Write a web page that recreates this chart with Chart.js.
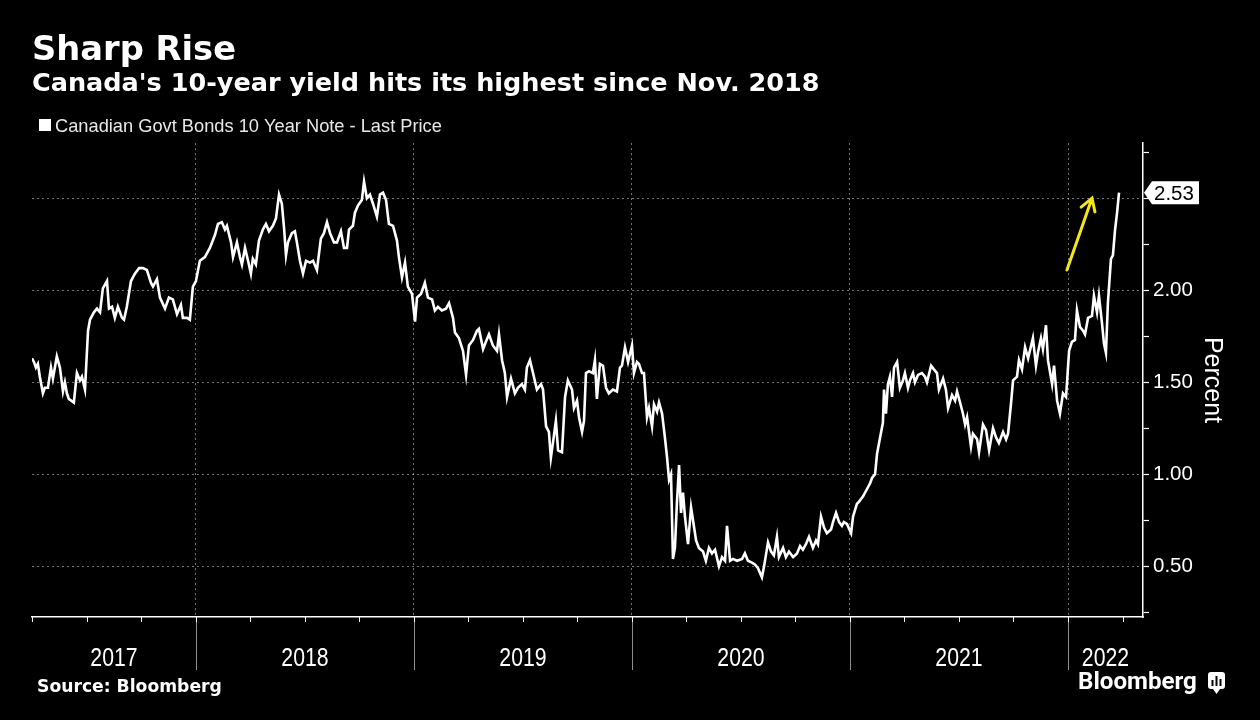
<!DOCTYPE html>
<html>
<head>
<meta charset="utf-8">
<script src="https://cdn.jsdelivr.net/npm/chart.js@4.4.1/dist/chart.umd.min.js"></script>
<style>
  html, body { margin: 0; padding: 0; background: #000; }
  #chart { display: block; }
</style>
</head>
<body>
<canvas id="chart" width="1260" height="720"></canvas>
<script>
const title = "Sharp Rise";
const subtitle = "Canada's 10-year yield hits its highest since Nov. 2018";
const seriesName = "Canadian Govt Bonds 10 Year Note - Last Price";
const source = "Source: Bloomberg";

// x values are fractions of each calendar year, y values in percent
const frac2017 = [.248, .257, .266, .275, .284, .298, .307, .321, .335, .344, .362, .376, .390, .399, .408, .417, .440, .454, .468, .477, .491, .505, .514, .532, .546, .560, .573, .592, .601, .615, .628, .642, .661, .670, .683, .702, .720, .739, .757, .775, .794, .803, .821, .835, .858, .876, .894, .913, .931, .940, .959, .972, .986];
const yld2017 = [1.63, 1.61, 1.58, 1.60, 1.53, 1.44, 1.47, 1.47, 1.58, 1.52, 1.64, 1.58, 1.45, 1.50, 1.44, 1.41, 1.39, 1.55, 1.51, 1.53, 1.46, 1.78, 1.84, 1.88, 1.90, 1.88, 2.01, 2.05, 1.90, 1.91, 1.85, 1.91, 1.85, 1.84, 1.91, 2.05, 2.09, 2.12, 2.12, 2.11, 2.04, 2.02, 2.06, 1.96, 1.90, 1.96, 1.95, 1.87, 1.92, 1.85, 1.85, 1.84, 2.02];

const frac2018 = [.000, .018, .041, .064, .087, .101, .119, .133, .142, .161, .170, .188, .202, .211, .225, .239, .252, .261, .275, .289, .307, .321, .335, .353, .367, .381, .394, .404, .413, .422, .440, .454, .463, .477, .491, .505, .523, .537, .555, .573, .587, .601, .615, .633, .647, .665, .679, .693, .702, .720, .729, .743, .761, .771, .784, .798, .812, .830, .844, .858, .872, .885, .904, .922, .931, .945, .959, .972, .991];
const yld2018 = [2.05, 2.16, 2.18, 2.23, 2.30, 2.36, 2.37, 2.33, 2.35, 2.26, 2.18, 2.26, 2.18, 2.14, 2.23, 2.16, 2.09, 2.17, 2.14, 2.27, 2.33, 2.36, 2.32, 2.35, 2.39, 2.52, 2.47, 2.34, 2.19, 2.26, 2.31, 2.32, 2.26, 2.16, 2.09, 2.16, 2.15, 2.16, 2.11, 2.28, 2.31, 2.37, 2.31, 2.26, 2.26, 2.32, 2.23, 2.23, 2.33, 2.35, 2.42, 2.46, 2.49, 2.59, 2.50, 2.52, 2.47, 2.40, 2.52, 2.53, 2.49, 2.36, 2.35, 2.27, 2.18, 2.07, 2.15, 2.02, 1.98];

const frac2019 = [.005, .014, .032, .050, .064, .083, .096, .110, .128, .147, .161, .179, .188, .206, .225, .239, .252, .271, .289, .298, .317, .330, .344, .362, .381, .390, .404, .417, .427, .445, .463, .477, .495, .509, .518, .532, .546, .564, .583, .592, .606, .619, .628, .642, .651, .661, .679, .693, .706, .725, .734, .748, .757, .771, .780, .789, .803, .821, .830, .839, .853, .867, .881, .894, .913, .931, .945, .954, .968, .982];
const yld2019 = [1.83, 1.96, 1.98, 2.04, 1.96, 1.95, 1.89, 1.91, 1.89, 1.90, 1.93, 1.85, 1.77, 1.74, 1.67, 1.54, 1.70, 1.73, 1.78, 1.79, 1.68, 1.72, 1.76, 1.70, 1.67, 1.76, 1.62, 1.55, 1.42, 1.52, 1.44, 1.47, 1.49, 1.46, 1.58, 1.62, 1.55, 1.46, 1.49, 1.46, 1.26, 1.23, 1.09, 1.21, 1.29, 1.13, 1.12, 1.42, 1.51, 1.46, 1.36, 1.40, 1.31, 1.23, 1.29, 1.55, 1.56, 1.55, 1.62, 1.41, 1.60, 1.59, 1.47, 1.44, 1.46, 1.45, 1.58, 1.59, 1.69, 1.61];

const frac2020 = [.000, .009, .023, .032, .046, .055, .069, .078, .092, .101, .115, .124, .138, .151, .161, .170, .179, .188, .197, .206, .216, .225, .234, .243, .257, .271, .280, .294, .307, .326, .339, .353, .367, .381, .399, .413, .427, .436, .450, .463, .482, .505, .518, .532, .550, .564, .578, .596, .606, .624, .638, .651, .665, .674, .693, .706, .720, .739, .757, .771, .784, .798, .812, .830, .844, .853, .867, .881, .894, .913, .922, .936, .950, .963, .972, .986];
const yld2020 = [1.70, 1.55, 1.61, 1.60, 1.55, 1.55, 1.31, 1.36, 1.26, 1.38, 1.34, 1.39, 1.33, 1.20, 1.09, 0.97, 1.00, 0.54, 0.60, 0.84, 1.05, 0.79, 0.90, 0.77, 0.62, 0.82, 0.75, 0.64, 0.60, 0.58, 0.53, 0.60, 0.57, 0.59, 0.50, 0.55, 0.53, 0.72, 0.53, 0.54, 0.53, 0.54, 0.57, 0.53, 0.52, 0.51, 0.49, 0.44, 0.50, 0.63, 0.58, 0.56, 0.66, 0.55, 0.60, 0.55, 0.58, 0.55, 0.57, 0.61, 0.59, 0.62, 0.66, 0.60, 0.64, 0.62, 0.77, 0.71, 0.68, 0.70, 0.74, 0.79, 0.74, 0.72, 0.74, 0.73];

const frac2021 = [.005, .014, .032, .041, .060, .078, .092, .101, .115, .124, .138, .151, .156, .165, .174, .183, .193, .202, .216, .229, .243, .252, .266, .275, .289, .298, .312, .330, .344, .353, .372, .385, .399, .408, .427, .440, .450, .468, .482, .491, .505, .518, .528, .537, .555, .564, .583, .592, .610, .624, .638, .656, .670, .683, .702, .716, .725, .739, .748, .766, .775, .789, .803, .817, .839, .853, .862, .876, .885, .899, .908, .927, .936, .950, .963, .977, .991];
const yld2021 = [0.68, 0.77, 0.84, 0.85, 0.88, 0.92, 0.95, 0.98, 1.00, 1.11, 1.20, 1.28, 1.46, 1.33, 1.49, 1.53, 1.42, 1.58, 1.61, 1.47, 1.51, 1.55, 1.47, 1.51, 1.55, 1.50, 1.54, 1.55, 1.53, 1.50, 1.59, 1.57, 1.55, 1.46, 1.52, 1.46, 1.36, 1.43, 1.40, 1.45, 1.39, 1.33, 1.27, 1.31, 1.15, 1.22, 1.19, 1.12, 1.27, 1.24, 1.13, 1.25, 1.20, 1.17, 1.23, 1.19, 1.22, 1.39, 1.51, 1.53, 1.62, 1.57, 1.69, 1.63, 1.74, 1.59, 1.66, 1.74, 1.68, 1.81, 1.62, 1.49, 1.59, 1.40, 1.33, 1.44, 1.42];

const frac2022 = [.005, .018, .032, .041, .055, .069, .078, .092, .110, .119, .133, .142, .156, .165, .174, .183, .197, .206, .216, .225, .234];
const yld2022 = [1.67, 1.72, 1.73, 1.89, 1.80, 1.78, 1.76, 1.85, 1.86, 1.97, 1.88, 1.97, 1.82, 1.71, 1.66, 1.93, 2.17, 2.19, 2.33, 2.42, 2.53];

const yearLabels = ["2017", "2018", "2019", "2020", "2021", "2022"];
const yearBounds = [2018, 2019, 2020, 2021, 2022];
const quarterTicks = [2017.25, 2017.5, 2017.75, 2018, 2018.25, 2018.5, 2018.75, 2019, 2019.25, 2019.5, 2019.75,
  2020, 2020.25, 2020.5, 2020.75, 2021, 2021.25, 2021.5, 2021.75, 2022, 2022.25];
const yTicks = [0.25, 0.5, 0.75, 1, 1.25, 1.5, 1.75, 2, 2.25, 2.5, 2.75];
const yLabelled = [0.5, 1, 1.5, 2];
const yGridAt = [0.5, 1, 1.5, 2, 2.5];
const arrowFrom = [2021.995, 2.11];
const arrowTo = [2022.110, 2.50];

const years = [
  [2017, frac2017, yld2017], [2018, frac2018, yld2018], [2019, frac2019, yld2019],
  [2020, frac2020, yld2020], [2021, frac2021, yld2021], [2022, frac2022, yld2022]
];
const points = [];
years.forEach(([yr, fr, vals]) => fr.forEach((f, i) => points.push({ x: yr + f, y: vals[i] })));
const lastValue = yld2022[yld2022.length - 1];

// set the font size so the text spans the given width
function fitText(ctx, text, weight, family, width) {
  ctx.font = `${weight} 20px ${family}`;
  const size = 20 * width / ctx.measureText(text).width;
  ctx.font = `${weight} ${size.toFixed(2)}px ${family}`;
}

const decor = {
  id: "decor",
  beforeDraw(chart) {
    const { ctx } = chart;
    ctx.save();
    ctx.fillStyle = "#000";
    ctx.fillRect(0, 0, chart.width, chart.height);
    ctx.restore();
  },
  afterDraw(chart) {
    const { ctx, chartArea: a, scales: { x, y } } = chart;
    ctx.save();
    ctx.textBaseline = "alphabetic";
    ctx.textAlign = "left";
    ctx.fillStyle = "#fff";

    fitText(ctx, title, "bold", '"DejaVu Sans"', 204);
    ctx.fillText(title, 32, 60);
    fitText(ctx, subtitle, "bold", '"DejaVu Sans"', 788);
    ctx.fillText(subtitle, 32, 91);

    ctx.fillRect(39, 119, 12, 12);
    ctx.fillStyle = "#e8e8e8";
    fitText(ctx, seriesName, "normal", '"Liberation Sans"', 387);
    ctx.fillText(seriesName, 55, 132);

    // below the x axis: year separators, quarter ticks, year names
    ctx.strokeStyle = "#8c8c8c";
    ctx.lineWidth = 1;
    yearBounds.forEach(b => {
      const px = Math.round(x.getPixelForValue(b)) + 0.5;
      ctx.beginPath(); ctx.moveTo(px, a.bottom + 1); ctx.lineTo(px, 670); ctx.stroke();
    });
    ctx.strokeStyle = "#fff";
    quarterTicks.forEach(q => {
      const px = Math.round(x.getPixelForValue(q)) + 0.5;
      ctx.beginPath(); ctx.moveTo(px, a.bottom); ctx.lineTo(px, a.bottom + 5); ctx.stroke();
    });
    ctx.fillStyle = "#fff";
    ctx.font = '25px "Liberation Sans"';
    ctx.textAlign = "center";
    yearLabels.forEach(lbl => {
      const yr = Number(lbl);
      const s = Math.max(yr, x.min), e = Math.min(yr + 1, x.max);
      const cx = (x.getPixelForValue(s) + x.getPixelForValue(e)) / 2;
      ctx.save();
      ctx.translate(cx, 666);
      ctx.scale(0.85, 1);   // condensed look of the original axis font
      ctx.fillText(lbl, 0, 0);
      ctx.restore();
    });

    // last value tag on the right axis
    const ly = y.getPixelForValue(lastValue);
    const lx = a.right + 1;
    ctx.fillStyle = "#fff";
    ctx.beginPath();
    ctx.moveTo(lx, ly);
    ctx.lineTo(lx + 8, ly - 11.5);
    ctx.lineTo(lx + 55, ly - 11.5);
    ctx.lineTo(lx + 55, ly + 11.5);
    ctx.lineTo(lx + 8, ly + 11.5);
    ctx.closePath();
    ctx.fill();
    ctx.fillStyle = "#000";
    ctx.textAlign = "left";
    ctx.font = '20.5px "Liberation Sans"';
    ctx.fillText(lastValue.toFixed(2), lx + 10, ly + 7.5);

    // yellow arrow
    const x0 = x.getPixelForValue(arrowFrom[0]), y0 = y.getPixelForValue(arrowFrom[1]);
    const x1 = x.getPixelForValue(arrowTo[0]), y1 = y.getPixelForValue(arrowTo[1]);
    const ang = Math.atan2(y1 - y0, x1 - x0);
    ctx.strokeStyle = "#f3e61f";
    ctx.lineWidth = 3;
    ctx.lineCap = "round";
    ctx.beginPath();
    ctx.moveTo(x0, y0); ctx.lineTo(x1, y1);
    ctx.moveTo(x1 - 14 * Math.cos(ang - 0.55), y1 - 14 * Math.sin(ang - 0.55));
    ctx.lineTo(x1, y1);
    ctx.lineTo(x1 - 14 * Math.cos(ang + 0.55), y1 - 14 * Math.sin(ang + 0.55));
    ctx.stroke();

    // footer
    ctx.fillStyle = "#fff";
    fitText(ctx, source, "bold", '"DejaVu Sans"', 185);
    ctx.fillText(source, 37, 692);
    fitText(ctx, "Bloomberg", "bold", "Roboto", 119);
    ctx.fillText("Bloomberg", 1078, 689);
    // small logo mark
    ctx.beginPath();
    ctx.roundRect(1208, 672, 17, 17, 3);
    ctx.moveTo(1213, 689); ctx.lineTo(1216.5, 694); ctx.lineTo(1220, 689);
    ctx.fill();
    ctx.fillStyle = "#000";
    ctx.fillRect(1211.5, 680, 2, 6);
    ctx.fillRect(1215.5, 676, 2, 10);
    ctx.fillRect(1219.5, 679, 2, 7);
    ctx.restore();
  }
};

new Chart(document.getElementById("chart"), {
  type: "line",
  data: {
    datasets: [{
      label: seriesName,
      data: points,
      borderColor: "#fff",
      borderWidth: 2.6,
      pointRadius: 0,
      tension: 0,
      fill: false
    }]
  },
  options: {
    responsive: false,
    animation: false,
    events: [],
    layout: { padding: { left: 32, top: 143, right: 0, bottom: 0 } },
    plugins: { legend: { display: false }, tooltip: { enabled: false } },
    scales: {
      x: {
        type: "linear",
        min: 2017.248,
        max: 2022.344,
        afterBuildTicks: (scale) => { scale.ticks = yearBounds.map(v => ({ value: v })); },
        afterFit: (scale) => { scale.height = 103; },
        ticks: { display: false },
        grid: { color: "rgba(255,255,255,0.45)", lineWidth: 1, drawTicks: false },
        border: { display: true, color: "#fff", width: 1.5, dash: [2, 3] }
      },
      y: {
        position: "right",
        min: 0.2245,
        max: 2.80,
        afterBuildTicks: (scale) => { scale.ticks = yTicks.map(v => ({ value: v })); },
        afterFit: (scale) => { scale.width = 117; },
        ticks: {
          color: "#fff",
          padding: 4,
          font: { family: "Liberation Sans", size: 20.5 },
          callback: (v) => yLabelled.includes(v) ? v.toFixed(2) : ""
        },
        grid: {
          color: (c) => (c.tick && yGridAt.includes(c.tick.value)) ? "rgba(255,255,255,0.45)" : "rgba(0,0,0,0)",
          tickColor: "#fff",
          tickLength: 6,
          tickWidth: 1.2,
          tickBorderDash: []
        },
        border: { display: true, color: "#fff", width: 1.5, dash: [2, 3] },
        title: {
          display: true,
          text: "Percent",
          color: "#fff",
          font: { family: "Liberation Sans", size: 25 },
          padding: { top: 33, bottom: 0 }
        }
      }
    }
  },
  plugins: [decor]
});
</script>
</body>
</html>
